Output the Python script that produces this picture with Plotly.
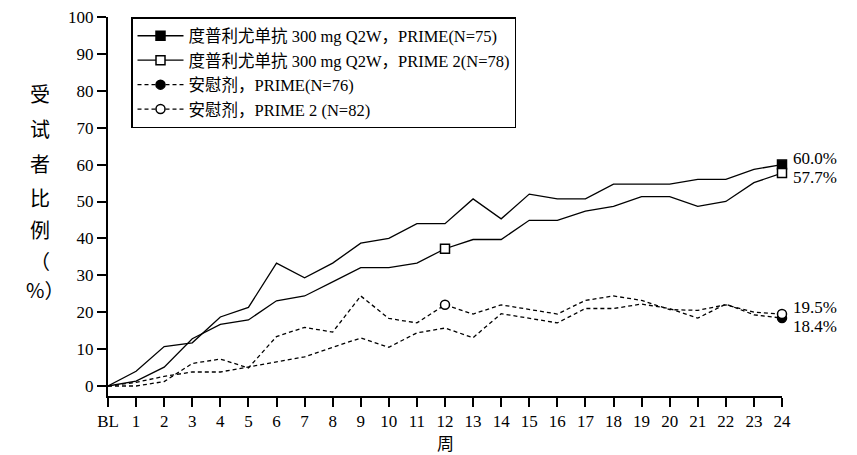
import plotly.graph_objects as go

weeks = list(range(25))
week_labels = ["BL"] + [str(i) for i in range(1, 25)]

dupi_prime = [0, 4.0, 10.7, 11.7, 18.7, 21.3, 33.3, 29.3, 33.3, 38.7, 40.0, 44.0, 44.0,
              50.7, 45.3, 52.0, 50.7, 50.7, 54.7, 54.7, 54.7, 56.0, 56.0, 58.7, 60.0]
dupi_prime2 = [0, 1.3, 5.1, 12.8, 16.7, 17.9, 23.1, 24.4, 28.2, 32.1, 32.1, 33.3, 37.2,
               39.7, 39.7, 44.9, 44.9, 47.4, 48.7, 51.3, 51.3, 48.7, 50.0, 55.1, 57.7]
pbo_prime = [0, 1.0, 2.6, 3.8, 3.8, 5.2, 6.5, 7.9, 10.5, 13.0, 10.5, 14.4, 15.7,
             13.1, 19.6, 18.4, 17.1, 21.0, 21.0, 22.2, 21.0, 18.4, 22.2, 19.3, 18.4]
pbo_prime2 = [0, 0, 1.2, 6.1, 7.3, 4.9, 13.4, 15.9, 14.6, 24.4, 18.3, 17.1, 22.0,
              19.5, 22.0, 20.7, 19.5, 23.2, 24.4, 23.2, 20.7, 20.5, 22.0, 20.0, 19.5]

names = ["度普利尤单抗 300 mg Q2W，PRIME(N=75)",
         "度普利尤单抗 300 mg Q2W，PRIME 2(N=78)",
         "安慰剂，PRIME(N=76)",
         "安慰剂，PRIME 2 (N=82)"]
end_labels = ["60.0%", "57.7%", "19.5%", "18.4%"]

FONT = "Liberation Serif, Noto Sans CJK SC, serif"

fig = go.Figure()

series = [
    (dupi_prime, names[0], "solid", "square", "black", [24]),
    (dupi_prime2, names[1], "solid", "square", "white", [12, 24]),
    (pbo_prime, names[2], "4px,3px", "circle", "black", [24]),
    (pbo_prime2, names[3], "4px,3px", "circle", "white", [12, 24]),
]

for vals, name, dash, sym, fill, marked in series:
    fig.add_trace(go.Scatter(
        x=weeks, y=vals, name=name, mode="lines+markers",
        line=dict(color="black", width=1.3, dash=dash),
        marker=dict(symbol=sym, size=9, color=fill,
                    line=dict(color="black", width=1.5)),
        selectedpoints=marked,
        selected=dict(marker=dict(opacity=1)),
        unselected=dict(marker=dict(opacity=0)),
        cliponaxis=False,
    ))

# end labels
label_specs = [(dupi_prime, end_labels[0], 6), (dupi_prime2, end_labels[1], -4),
               (pbo_prime2, end_labels[2], 7), (pbo_prime, end_labels[3], -8)]
for vals, txt, ys in label_specs:
    fig.add_annotation(x=weeks[-1], y=vals[-1], xref="x", yref="y", text=txt,
                       showarrow=False, xanchor="left", xshift=9, yshift=ys,
                       font=dict(family=FONT, size=17, color="black"))

# y-axis title, stacked characters (positions in screen pixels)
ytitle_chars = ["受", "试", "者", "比", "例", "（", "%）"]
ypix = [93, 128, 163, 197, 229, 260, 289]
xpix = [40, 40, 40, 40, 40, 40, 45]
for ch, py, px in zip(ytitle_chars, ypix, xpix):
    fig.add_annotation(x=(px - 108) / 674, y=(396 - py) / 379, xref="paper", yref="paper",
                       text=ch, showarrow=False, xanchor="center", yanchor="middle",
                       font=dict(family="Noto Sans CJK SC", size=20, color="black"))

# x-axis title
fig.add_annotation(x=0.5, y=(396 - 442) / 379, xref="paper", yref="paper", text="周",
                   showarrow=False, xanchor="center", yanchor="middle", borderpad=0,
                   font=dict(family="Noto Sans CJK SC", size=17, color="black"))

# page body has an 8px margin, so offset the figure margins accordingly
fig.update_layout(
    width=857, height=455,
    margin=dict(l=100, r=83, t=9, b=67, autoexpand=False),
    plot_bgcolor="white", paper_bgcolor="white",
    font=dict(family=FONT, size=17, color="black"),
    showlegend=True,
    legend=dict(x=(131 - 108) / 674, y=1.0, xanchor="left", yanchor="top",
                bordercolor="black", borderwidth=1.5, bgcolor="white",
                font=dict(family=FONT, size=16.5, color="black"),
                itemwidth=46, tracegroupgap=0),
    xaxis=dict(range=[0, 24], tickmode="array", tickvals=weeks, ticktext=week_labels,
               showgrid=False, zeroline=False, showline=True, linecolor="black",
               linewidth=2, ticks="outside", ticklen=9, tickwidth=1.5, tickcolor="black",
               automargin=False, ticklabeloverflow="allow",
               tickfont=dict(family=FONT, size=17)),
    yaxis=dict(range=[-2.71, 100], tickmode="array", tickvals=list(range(0, 101, 10)),
               showgrid=False, zeroline=False, showline=True, linecolor="black",
               linewidth=2, ticks="outside", ticklen=9, tickwidth=1.5, tickcolor="black",
               automargin=False, ticklabeloverflow="allow",
               tickfont=dict(family=FONT, size=17)),
)

fig.write_html("out.html")
